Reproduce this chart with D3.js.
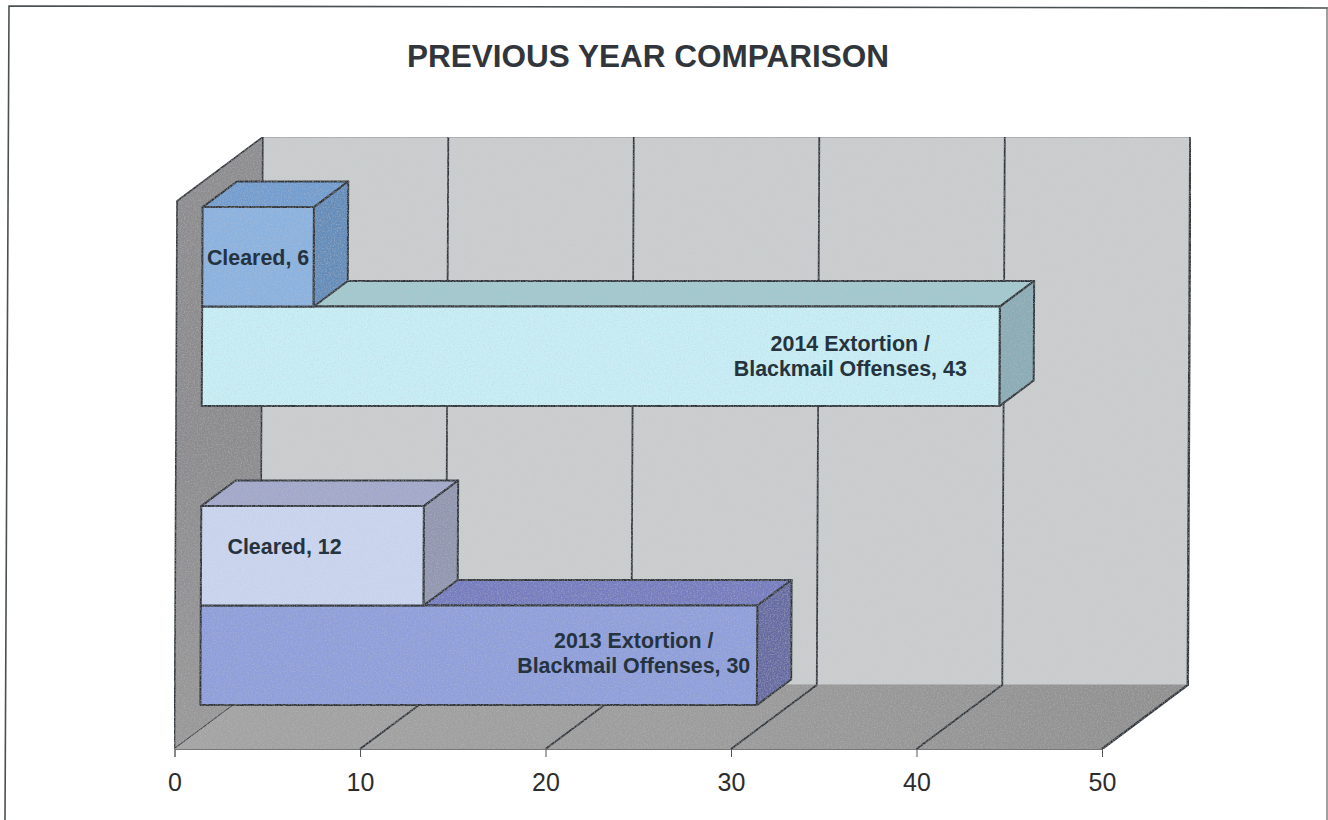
<!DOCTYPE html>
<html><head><meta charset="utf-8">
<style>html,body{margin:0;padding:0;background:#fff;overflow:hidden}svg{display:block}text{font-family:"Liberation Sans",Arial,sans-serif}</style>
<script src="https://cdn.jsdelivr.net/npm/d3@7/dist/d3.min.js"></script>
</head><body><svg id="c" width="1328" height="820"></svg>
<script>
const title = "PREVIOUS YEAR COMPARISON";
const years = ["2014", "2013"];
const seriesKeys = ["cleared", "offenses"];
const clearedValues = [6, 12];
const offenseValues = [43, 30];
const clearedLabels = [["Cleared, 6"], ["Cleared, 12"]];
const offenseLabels = [["2014 Extortion /", "Blackmail Offenses, 43"], ["2013 Extortion /", "Blackmail Offenses, 30"]];
const xTicks = [0, 10, 20, 30, 40, 50];
// styles
const clearedFill = [{front:"#8ab2e0",top:"#719dd0",side:"#628cba"},{front:"#cad5f0",top:"#a2a8cb",side:"#9297b1"}];
const offenseFill = [{front:"#c8eef6",top:"#a2c9cf",side:"#8aacb6"},{front:"#8e9fdc",top:"#757cc0",side:"#656aa3"}];
const clearedLabelAt = [null, 4.5];   // label centre, in axis units past the bar start
const offenseLabelAt = [34.95, 23.35];
const clearedLabelNudge = [1, -9];
const offenseLabelNudge = [0, -2];

const svg = d3.select("#c");
const x = d3.scaleLinear().domain([0, 50]).range([174.5, 1102]);
const floorY = 749, wallH = 548, DX = 85.5, DY = 64, lean = 0.00456;
const P = (v, d, y) => { const Y = y - DY * d; return [x(v) + DX * d + lean * (floorY - Y), Y]; };
const poly = pts => "M" + pts.map(p => p.join(",")).join("L") + "Z";
const ink = "#2f363c";

const defs = svg.append("defs");
const f = defs.append("filter").attr("id","grain").attr("x","0").attr("y","0").attr("width","1").attr("height","1");
f.append("feTurbulence").attr("type","fractalNoise").attr("baseFrequency","0.7").attr("numOctaves",2).attr("seed",4).attr("result","n");
f.append("feColorMatrix").attr("in","n").attr("type","matrix")
 .attr("values","0 0 0 0 0.55  0 0 0 0 0.55  0 0 0 0 0.55  0.8 0 0 0 -0.33").attr("result","g");
f.append("feComposite").attr("in","g").attr("in2","SourceAlpha").attr("operator","in").attr("result","gc");
f.append("feMerge").selectAll("feMergeNode").data(["SourceGraphic","gc"]).join("feMergeNode").attr("in",d=>d);
const grad = (id, stops, x2, y2) => { const g = defs.append("linearGradient").attr("id",id).attr("x1",0).attr("y1",0).attr("x2",x2).attr("y2",y2);
  stops.forEach((c,i)=>g.append("stop").attr("offset",i/(stops.length-1)).attr("stop-color",c)); };
grad("wallG", ["#8d8d90","#8b8b8e","#99999a"], 0, 1);
grad("floorG", ["#a4a4a4","#9c9c9c","#8f8f8f"], 1, 0);

// page frame
svg.append("path").attr("d","M5,820 L9,6 L1328,8").attr("fill","none").attr("stroke","#4a5052").attr("stroke-width",1.6);
svg.append("path").attr("d","M1327,8 L1327,820").attr("fill","none").attr("stroke","#777").attr("stroke-width",1.4);

svg.append("text").attr("x",648).attr("y",67).attr("text-anchor","middle")
  .attr("font-size",31.5).attr("font-weight",700).attr("fill","#30363b").text(title);

const plot = svg.append("g").attr("filter","url(#grain)");
const top0 = floorY - wallH;
// back wall, left wall, floor
plot.append("path").attr("fill","#cbcecf").attr("stroke","#8e9092").attr("stroke-width",1).attr("d",poly([P(0,1,floorY),P(50,1,floorY),P(50,1,top0),P(0,1,top0)]));
plot.append("path").attr("fill","url(#wallG)").attr("stroke",ink).attr("stroke-width",1.6)
  .attr("d",poly([P(0,0,floorY),P(0,1,floorY),P(0,1,top0),P(0,0,top0)]));
plot.append("path").attr("fill","url(#floorG)").attr("d",poly([P(0,0,floorY),P(50,0,floorY),P(50,1,floorY),P(0,1,floorY)]));
// grid lines
plot.selectAll("path.grid").data(xTicks.slice(1)).join("path").attr("class","grid")
  .attr("fill","none").attr("stroke",ink).attr("stroke-width",d=>d===50?2.4:1.8)
  .attr("d",d=>"M"+[P(d,0,floorY),P(d,1,floorY),P(d,1,top0)].map(p=>p.join(",")).join("L"));

// bars
const cat = d3.scaleBand().domain(years).range([176.3, 774.3]);
const ser = d3.scaleBand().domain(seriesKeys).range([50, 249]);
const z0 = 0.30, z1 = 0.70;
function box(g, yr, key, v, fill) {
  const y0 = cat(yr) + ser(key), y1 = y0 + ser.bandwidth();
  const add = (c, pts) => g.append("path").attr("d",poly(pts)).attr("fill",c).attr("stroke",ink).attr("stroke-width",2).attr("stroke-linejoin","round");
  add(fill.top, [P(0,z0,y0),P(v,z0,y0),P(v,z1,y0),P(0,z1,y0)]);
  add(fill.side, [P(v,z0,y0),P(v,z0,y1),P(v,z1,y1),P(v,z1,y0)]);
  add(fill.front, [P(0,z0,y0),P(v,z0,y0),P(v,z0,y1),P(0,z0,y1)]);
}
const bars = plot.append("g");
years.forEach((yr,i) => {
  box(bars, yr, "offenses", offenseValues[i], offenseFill[i]);
  box(bars, yr, "cleared", clearedValues[i], clearedFill[i]);
});

// data labels
const labels = svg.append("g").attr("fill","#25333e").attr("font-weight",700).attr("font-size",21.4).attr("text-anchor","middle");
function label(yr, key, lines, at, nudge) {
  const yc = cat(yr) + ser(key) + ser.bandwidth()/2 - DY*z0 + nudge;
  const [cx] = P(at, z0, yc + DY*z0);
  const t = labels.append("text");
  lines.forEach((s,j) => t.append("tspan").attr("x",cx).attr("y",yc + 7 + (j - (lines.length-1)/2)*25).text(s));
}
years.forEach((yr,i) => {
  label(yr, "cleared", clearedLabels[i], clearedLabelAt[i] === null ? clearedValues[i]/2 : clearedLabelAt[i], clearedLabelNudge[i]);
  label(yr, "offenses", offenseLabels[i], offenseLabelAt[i], offenseLabelNudge[i]);
});

// axis
const ax = svg.append("g").attr("transform",`translate(0,${floorY})`)
  .call(d3.axisBottom(x).tickValues(xTicks).tickSize(8).tickPadding(16).tickFormat(d3.format("d")));
ax.select(".domain").attr("stroke","#777").attr("stroke-width",1);
ax.selectAll(".tick line").attr("stroke","#555");
ax.selectAll("text").attr("font-size",25).attr("fill","#2c2c2c").attr("font-family",'"Liberation Sans",Arial,sans-serif');
</script></body></html>
